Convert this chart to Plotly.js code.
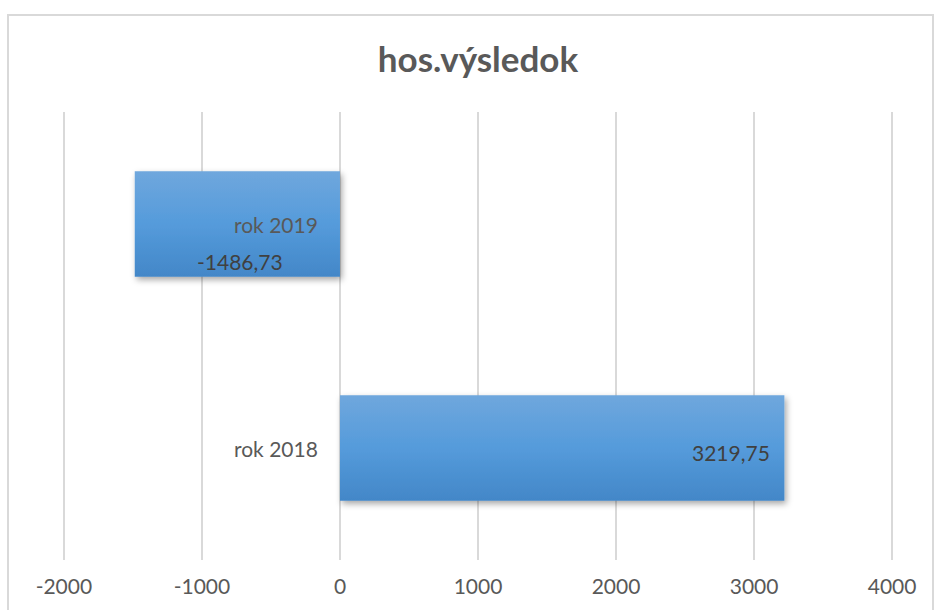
<!DOCTYPE html>
<html>
<head>
<meta charset="utf-8">
<script src="https://cdn.plot.ly/plotly-3.0.1.min.js"></script>
<style>
html,body{margin:0;padding:0;background:#fff;}
#chart{width:934px;height:610px;}
</style>
</head>
<body>
<div id="chart"></div>
<script>
// Data
const categories = ['rok 2018', 'rok 2019'];
const values = [3219.75, -1486.73];
const valueLabels = ['3219,75', '-1486,73'];
const tickValues = [-2000, -1000, 0, 1000, 2000, 3000, 4000];
const tickLabels = ['-2000', '-1000', '0', '1000', '2000', '3000', '4000'];
const chartTitle = 'hos.výsledok';

const FONT = 'Lato, "Open Sans", sans-serif';

const trace = {
  type: 'bar',
  orientation: 'h',
  y: categories,
  x: values,
  width: 0.47,
  marker: {color: '#579cdb', line: {width: 0}},
  hoverinfo: 'none'
};

const annotations = [];
// category labels placed next to the zero line (Excel-style)
categories.forEach(function (c) {
  annotations.push({
    x: 0, y: c, xref: 'x', yref: 'y',
    text: c, showarrow: false,
    xanchor: 'right', xshift: -20,
    font: {family: FONT, size: 21, color: '#595959'}
  });
});
// data labels
values.forEach(function (v, i) {
  const neg = v < 0;
  annotations.push({
    x: v, y: categories[i], xref: 'x', yref: 'y',
    text: valueLabels[i], showarrow: false,
    xanchor: neg ? 'left' : 'right',
    xshift: neg ? 60 : -12,
    yshift: neg ? -37 : -4,
    font: {family: FONT, size: 21, color: '#404040'}
  });
});

const L = 57, PW = 842;
const layout = {
  width: 934, height: 610,
  paper_bgcolor: '#ffffff', plot_bgcolor: '#ffffff',
  margin: {l: L, r: 934 - L - PW, t: 112, b: 50},
  showlegend: false,
  title: {
    text: '<b>' + chartTitle + '</b>',
    x: 0.5, xanchor: 'center', xref: 'paper',
    y: 1 - 60 / 610, yanchor: 'middle', yref: 'container',
    font: {family: FONT, size: 35, color: '#595959'}
  },
  xaxis: {
    range: [-2050, 4050],
    tickvals: tickValues, ticktext: tickLabels,
    showgrid: true, gridcolor: '#d9d9d9', gridwidth: 1.5,
    zeroline: false, showline: false,
    ticks: 'outside', ticklen: 8, tickcolor: 'rgba(0,0,0,0)',
    tickfont: {family: FONT, size: 21, color: '#595959'},
    fixedrange: true
  },
  yaxis: {
    type: 'category',
    categoryorder: 'array', categoryarray: categories,
    range: [-0.5, 1.5],
    showticklabels: false, showgrid: false, zeroline: false, showline: false,
    fixedrange: true
  },
  bargap: 0.53,
  annotations: annotations,
  shapes: [{
    type: 'rect', xref: 'paper', yref: 'paper',
    x0: (8 - L) / PW, x1: (933 - L) / PW,
    y0: -0.3, y1: (560 - 15) / 448,
    line: {color: '#d9d9d9', width: 2}, fillcolor: 'rgba(0,0,0,0)',
    layer: 'below'
  }]
};

Plotly.newPlot('chart', [trace], layout, {staticPlot: true, displayModeBar: false}).then(function (gd) {
  const svgNS = 'http://www.w3.org/2000/svg';
  const svg = gd.querySelector('svg.main-svg');
  let defs = svg.querySelector('defs');
  if (!defs) { defs = document.createElementNS(svgNS, 'defs'); svg.insertBefore(defs, svg.firstChild); }
  const grad = document.createElementNS(svgNS, 'linearGradient');
  grad.setAttribute('id', 'barGrad');
  grad.setAttribute('x1', '0'); grad.setAttribute('y1', '0');
  grad.setAttribute('x2', '0'); grad.setAttribute('y2', '1');
  [['0%', '#6fa7dd'], ['50%', '#559bdb'], ['100%', '#4387c8']].forEach(function (s) {
    const st = document.createElementNS(svgNS, 'stop');
    st.setAttribute('offset', s[0]); st.setAttribute('stop-color', s[1]);
    grad.appendChild(st);
  });
  defs.appendChild(grad);
  const filt = document.createElementNS(svgNS, 'filter');
  filt.setAttribute('id', 'barShadow');
  filt.setAttribute('x', '-10%'); filt.setAttribute('y', '-20%');
  filt.setAttribute('width', '120%'); filt.setAttribute('height', '150%');
  const ds = document.createElementNS(svgNS, 'feDropShadow');
  ds.setAttribute('dx', '2'); ds.setAttribute('dy', '3');
  ds.setAttribute('stdDeviation', '3');
  ds.setAttribute('flood-color', '#000'); ds.setAttribute('flood-opacity', '0.35');
  filt.appendChild(ds);
  defs.appendChild(filt);
  gd.querySelectorAll('.barlayer .point path').forEach(function (p) {
    p.style.fill = 'url(#barGrad)';
    p.style.filter = 'url(#barShadow)';
  });
});
</script>
</body>
</html>
